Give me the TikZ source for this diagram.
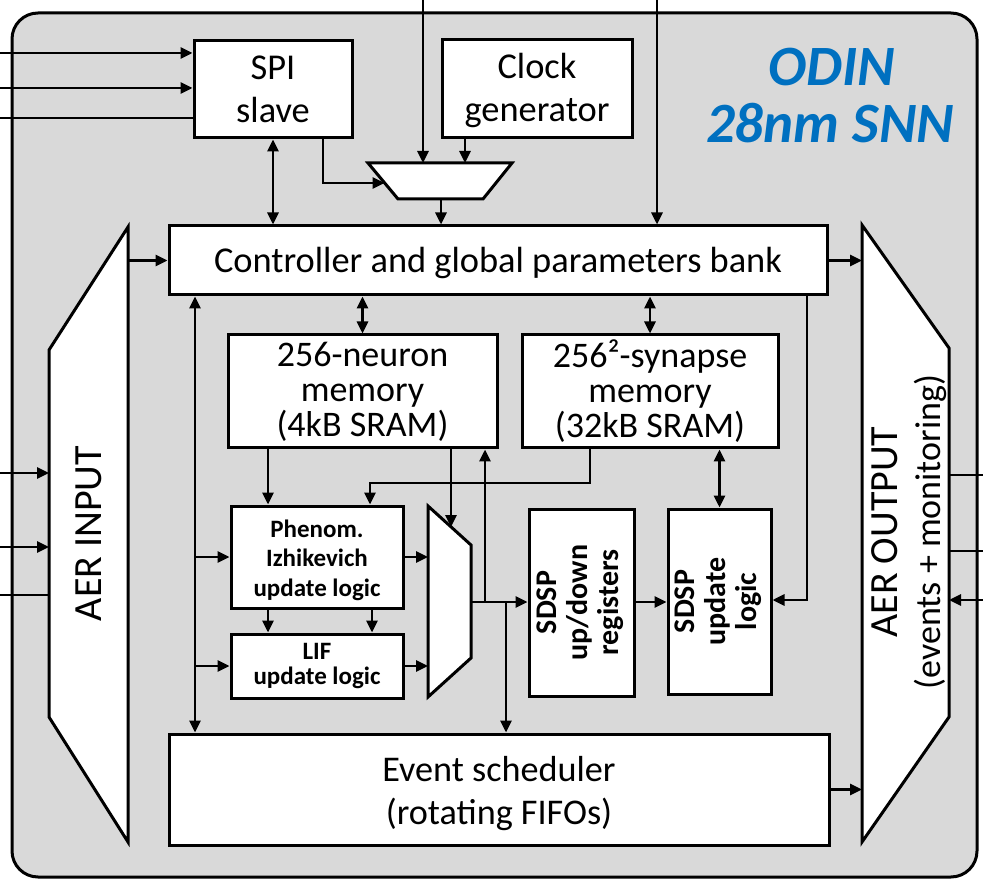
\documentclass[tikz,border=0pt]{standalone}
\usepackage{fontspec}
\setmainfont{Carlito}
\usetikzlibrary{arrows.meta}
\definecolor{panel}{RGB}{217,217,217}
\definecolor{odinblue}{RGB}{0,112,192}
\newcommand\fsMain{\fontsize{36.4}{43}\selectfont}
\newcommand\fsMem{\fontsize{36}{35}\selectfont}
\newcommand\fsSched{\fontsize{36.2}{43}\selectfont}
\newcommand\fsIzh{\fontsize{25}{29.5}\selectfont\bfseries}
\newcommand\fsLif{\fontsize{25}{25}\selectfont\bfseries}
\newcommand\fsSdsp{\fontsize{30}{31}\selectfont\bfseries}
\newcommand\fsAer{\fontsize{40}{43}\selectfont}
\newcommand\fsTitle{\fontsize{57}{57}\selectfont\bfseries\itshape}
% text stack whose first baseline is raised by #2 above the node centre
\newcommand\tstack[3]{\raisebox{#2}[0pt][0pt]{#1\begin{tabular}[t]{@{}c@{}}#3\end{tabular}}}
\begin{document}
\begin{tikzpicture}[x=1pt,y=-1pt,
  box/.style={draw, fill=white, line width=3pt, inner sep=0pt, align=center},
  shapeline/.style={draw, fill=white, line width=3pt},
  conn/.style={draw, line width=2.8pt},
  arr/.style={conn, -{Triangle[length=12pt,width=11pt]}},
  darr/.style={conn, {Triangle[length=12pt,width=11pt]}-{Triangle[length=12pt,width=11pt]}},
  lbl/.style={inner sep=0pt, align=center}]
\useasboundingbox (0,0) rectangle (983,882);
% outer chip
\draw[fill=panel, line width=3pt, rounded corners=26pt] (12,13) rectangle (977,877);

% title
\node[lbl, anchor=base, font=\fsTitle, text=odinblue] (t1) at (832,86) {ODIN};
\node[lbl, anchor=base, font=\fsTitle, text=odinblue] (t2) at (830,143) {28nm SNN};

% boxes
\node[box, minimum width=158pt, minimum height=97pt, font=\fsMain] (spi) at (273,89.5) {SPI\\slave};
\node[box, minimum width=190pt, minimum height=98pt] (clk) at (537,89) {\tstack{\fsMain}{10pt}{Clock\\generator}};
\node[box, minimum width=658pt, minimum height=69pt, font=\fsMain] (ctrl) at (498,260.5) {\raisebox{-12.25pt}[0pt][0pt]{Controller and global parameters bank}};
\node[box, minimum width=269pt, minimum height=113pt, font=\fsMem] (nmem) at (362.5,391.5) {256-neuron\\memory\\(4kB SRAM)};
\node[box, minimum width=256pt, minimum height=113pt, font=\fsMem] (smem) at (650,391.5) {256²-synapse\\memory\\(32kB SRAM)};
\node[box, minimum width=172pt, minimum height=102pt] (izh) at (317,557) {\tstack{\fsIzh}{20pt}{Phenom.\\Izhikevich\\update logic}};
\node[box, minimum width=172pt, minimum height=64pt, font=\fsLif] (lif) at (317,666) {LIF\\update logic};
\node[box, minimum width=105pt, minimum height=187pt, font=\fsSdsp] (sdspR) at (581.5,602.5)
  {\rotatebox{90}{\begin{tabular}{@{}c@{}}SDSP\\up/down\\registers\end{tabular}}};
\node[box, minimum width=103pt, minimum height=185pt, font=\fsSdsp] (sdspU) at (719.5,601.5)
  {\rotatebox{90}{\begin{tabular}{@{}c@{}}SDSP\\update\\logic\end{tabular}}};
\node[box, minimum width=660pt, minimum height=111pt] (sched) at (499,789.5) {\tstack{\fsSched}{8.5pt}{Event scheduler\\(rotating FIFOs)}};

% trapezoid shapes
\draw[shapeline] (368,163) -- (512,163) -- (483,199) -- (398,199) -- cycle;
\draw[shapeline] (428,506) -- (471,545) -- (471,658) -- (428,697) -- cycle;
\draw[shapeline] (49,350) -- (128,227) -- (128,842) -- (49,717) -- cycle;
\draw[shapeline] (862,225) -- (949,348) -- (949,717) -- (862,842) -- cycle;
\node[lbl, font=\fsAer] (aerin) at (88.5,533.5) {\rotatebox{90}{AER INPUT}};
\node[lbl, font=\fsMain] (aerout) at (910.5,532)
  {\rotatebox{90}{\fontsize{36}{43}\selectfont\begin{tabular}{@{}c@{}}{\fsAer AER OUTPUT}\\(events + monitoring)\end{tabular}}};

% named points
\coordinate (in1) at (0,53);
\coordinate (in2) at (0,88);
\coordinate (out1) at (0,118);
\coordinate (spiout) at (323,183);
\coordinate (cmuxL) at (384.5,183);
\coordinate (cmuxA) at (423,163);
\coordinate (cmuxB) at (465,163);
\coordinate (cmuxO) at (441,199);
\coordinate (topin1) at (423,0);
\coordinate (topin2) at (657,0);
\coordinate (aerinW) at (49,533);
\coordinate (aerinE) at (128,533);
\coordinate (aeroutW) at (862,533);
\coordinate (aeroutE) at (949,533);
\coordinate (lbus) at (195,500);
\coordinate (rbus) at (807,600);
\coordinate (xa) at (268,0);
\coordinate (xb) at (372,0);
\coordinate (nmuxT) at (451,527);
\coordinate (nmuxL) at (428,600);
\coordinate (nmuxO) at (471,602);
\coordinate (j1) at (485,602);
\coordinate (j2) at (506,602);
\coordinate (sbend) at (590,483);
\coordinate (sbend2) at (370,483);
\coordinate (ai1) at (0,473);
\coordinate (ai2) at (0,547);
\coordinate (ao) at (0,595);
\coordinate (ro1) at (983,475);
\coordinate (ro2) at (983,551);
\coordinate (ri) at (983,600);

% connectors
\draw[arr] (in1) -- (in1 -| spi.west);
\draw[arr] (in2) -- (in2 -| spi.west);
\draw[conn] (out1 -| spi.west) -- (out1);
\draw[darr] (spi.south) -- (spi.south |- ctrl.north);
\draw[arr] (spi.south -| spiout) -- (spiout) -- (cmuxL);
\draw[arr] (topin1) -- (cmuxA);
\draw[arr] (clk.south -| cmuxB) -- (cmuxB);
\draw[arr] (cmuxO) -- (cmuxO |- ctrl.north);
\draw[arr] (topin2) -- (topin2 |- ctrl.north);
\draw[arr] (ctrl.west -| aerinE) -- (ctrl.west);
\draw[arr] (ctrl.east) -- (ctrl.east -| aeroutW);
\draw[darr] (ctrl.south -| nmem.north) -- (nmem.north);
\draw[darr] (ctrl.south -| smem.north) -- (smem.north);
\draw[darr] (ctrl.south -| lbus) -- (sched.north -| lbus);
\draw[arr] (izh.west -| lbus) -- (izh.west);
\draw[arr] (lif.west -| lbus) -- (lif.west);
\draw[arr] (ctrl.south -| rbus) -- (rbus) -- (rbus -| sdspU.east);
\draw[arr] (nmem.south -| xa) -- (izh.north -| xa);
\draw[arr] (nmem.south -| nmuxT) -- (nmuxT);
\draw[arr] (smem.south -| sbend) -- (sbend) -- (sbend2) -- (izh.north -| sbend2);
\draw[darr] (smem.south -| sdspU.north) -- (sdspU.north);
\draw[arr] (izh.east) -- (izh.east -| nmuxL);
\draw[arr] (lif.east) -- (lif.east -| nmuxL);
\draw[arr] (izh.south -| xa) -- (lif.north -| xa);
\draw[arr] (izh.south -| xb) -- (lif.north -| xb);
\draw[arr] (nmuxO) -- (nmuxO -| sdspR.west);
\draw[arr] (j1) -- (j1 |- nmem.south);
\draw[arr] (j2) -- (j2 |- sched.north);
\draw[arr] (sdspR.east |- nmuxO) -- (sdspU.west |- nmuxO);
\draw[arr] (sched.east) -- (sched.east -| aeroutW);
\draw[arr] (ai1) -- (ai1 -| aerinW);
\draw[arr] (ai2) -- (ai2 -| aerinW);
\draw[conn] (ao -| aerinW) -- (ao);
\draw[conn] (ro1 -| aeroutE) -- (ro1);
\draw[conn] (ro2 -| aeroutE) -- (ro2);
\draw[arr] (ri) -- (ri -| aeroutE);
\end{tikzpicture}
\end{document}
